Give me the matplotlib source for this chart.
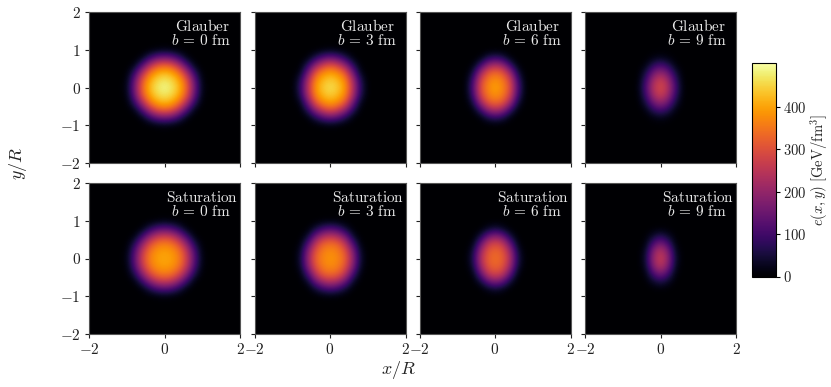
import numpy as np
from matplotlib import pyplot as plt

plt.rcParams['font.family'] = ['cmr10', 'DejaVu Serif']
plt.rcParams['mathtext.fontset'] = 'cm'
plt.rcParams['axes.unicode_minus'] = False

# quadrant x, y = 0, 0.2 ... 1.2 in GeV/fm^3
glauber_0 = [[490, 470, 420, 325, 155, 18, 0],
             [470, 450, 400, 305, 135, 12, 0],
             [420, 400, 345, 225, 78, 4, 0],
             [325, 305, 225, 105, 14, 0, 0],
             [155, 135, 78, 14, 0, 0, 0],
             [18, 12, 4, 0, 0, 0, 0],
             [0, 0, 0, 0, 0, 0, 0]]
glauber_3 = [[460, 440, 385, 245, 75, 2, 0],
             [442, 420, 368, 225, 60, 1, 0],
             [395, 375, 310, 155, 20, 0, 0],
             [305, 270, 190, 72, 3, 0, 0],
             [140, 115, 60, 8, 0, 0, 0],
             [14, 9, 2, 0, 0, 0, 0],
             [0, 0, 0, 0, 0, 0, 0]]
glauber_6 = [[400, 370, 295, 110, 4, 0, 0],
             [382, 355, 275, 90, 2, 0, 0],
             [335, 310, 205, 45, 0, 0, 0],
             [232, 195, 85, 7, 0, 0, 0],
             [80, 55, 8, 0, 0, 0, 0],
             [2, 1, 0, 0, 0, 0, 0],
             [0, 0, 0, 0, 0, 0, 0]]
glauber_9 = [[290, 240, 105, 6, 0, 0, 0],
             [272, 215, 85, 3, 0, 0, 0],
             [200, 150, 50, 1, 0, 0, 0],
             [105, 70, 12, 0, 0, 0, 0],
             [22, 12, 1, 0, 0, 0, 0],
             [2, 1, 0, 0, 0, 0, 0],
             [0, 0, 0, 0, 0, 0, 0]]
saturation_0 = [[405, 395, 360, 270, 125, 14, 0],
                [395, 385, 345, 250, 108, 9, 0],
                [360, 345, 290, 185, 60, 3, 0],
                [270, 250, 185, 85, 9, 0, 0],
                [125, 108, 60, 9, 0, 0, 0],
                [14, 9, 3, 0, 0, 0, 0],
                [0, 0, 0, 0, 0, 0, 0]]
saturation_3 = [[385, 370, 325, 195, 38, 0, 0],
                [375, 360, 305, 175, 28, 0, 0],
                [340, 325, 250, 110, 9, 0, 0],
                [250, 225, 150, 35, 1, 0, 0],
                [112, 92, 42, 3, 0, 0, 0],
                [10, 6, 2, 0, 0, 0, 0],
                [0, 0, 0, 0, 0, 0, 0]]
saturation_6 = [[340, 322, 228, 55, 1, 0, 0],
                [330, 308, 205, 40, 0, 0, 0],
                [290, 258, 135, 12, 0, 0, 0],
                [182, 143, 45, 1, 0, 0, 0],
                [48, 25, 2, 0, 0, 0, 0],
                [2, 1, 0, 0, 0, 0, 0],
                [0, 0, 0, 0, 0, 0, 0]]
saturation_9 = [[270, 200, 38, 0, 0, 0, 0],
                [250, 175, 28, 0, 0, 0, 0],
                [170, 105, 10, 0, 0, 0, 0],
                [68, 36, 3, 0, 0, 0, 0],
                [7, 3, 0, 0, 0, 0, 0],
                [0, 0, 0, 0, 0, 0, 0],
                [0, 0, 0, 0, 0, 0, 0]]

impact = [0, 3, 6, 9]
models = ["Glauber", "Saturation"]
panels = [[glauber_0, glauber_3, glauber_6, glauber_9],
          [saturation_0, saturation_3, saturation_6, saturation_9]]
x_ticks = [-2, 0, 2]
y_ticks = [-2, -1, 0, 1, 2]
cbar_ticks = [0, 100, 200, 300, 400]
vmax = 503

W, H = 831, 387
left_px = [89, 254.5, 419.5, 585]
top_px = [12, 183]
size_px = 151


def full_grid(quadrant):
    q = np.zeros((11, 11))
    q[:7, :7] = quadrant
    top = np.hstack([q[:, :0:-1], q])
    return np.vstack([top[:0:-1], top])


def tick_text(values):
    return ["$%d$" % v for v in values]


fig = plt.figure(figsize=(W/100, H/100), dpi=100)

for row in range(2):
    for col in range(4):
        ax = fig.add_axes([left_px[col]/W, 1 - (top_px[row]+size_px)/H,
                           size_px/W, size_px/H])
        im = ax.imshow(full_grid(panels[row][col]), cmap="inferno", vmin=0, vmax=vmax,
                       origin="lower", extent=[-2.1, 2.1, -2.1, 2.1],
                       interpolation="bicubic")
        ax.set_xlim(-2, 2)
        ax.set_ylim(-2, 2)
        ax.set_xticks(x_ticks)
        ax.set_yticks(y_ticks)
        ax.set_xticklabels(tick_text(x_ticks) if row == 1 else [])
        ax.set_yticklabels(tick_text(y_ticks) if col == 0 else [])
        ax.tick_params(labelsize=11, length=3, width=0.8, pad=3, color="#222222",
                       labelcolor="#222222")
        for spine in ax.spines.values():
            spine.set_color("#555555")
            spine.set_linewidth(0.8)
        ax.text(0.75, 0.905, r"$\mathrm{%s}$" % models[row], transform=ax.transAxes,
                color="#e8e8e8", fontsize=11, ha="center", va="center")
        ax.text(0.74, 0.81, r"$b\,=\,%d\ \mathrm{fm}$" % impact[col], transform=ax.transAxes,
                color="#e8e8e8", fontsize=11, ha="center", va="center")

cax = fig.add_axes([752/W, 1 - 276.5/H, 24/W, 213.5/H])
cbar = fig.colorbar(im, cax=cax)
cbar.set_ticks(cbar_ticks)
cbar.set_ticklabels(tick_text(cbar_ticks))
cbar.ax.tick_params(labelsize=10.5, length=3, width=0.8, pad=2, labelcolor="#222222")
cbar.outline.set_linewidth(0.8)

fig.text(819/W, 1 - 170/H, r"$e(x,y)\ [\mathrm{GeV/fm}^3]$", fontsize=10.5, color="#222222",
         ha="center", va="center", rotation=90)
fig.text(399/W, 1 - 370/H, r"$x/R$", fontsize=13, color="#222222", ha="center", va="center")
fig.text(18/W, 1 - 163/H, r"$y/R$", fontsize=13, color="#222222", ha="center", va="center",
         rotation=90)

fig.savefig("out.png", dpi=100)
